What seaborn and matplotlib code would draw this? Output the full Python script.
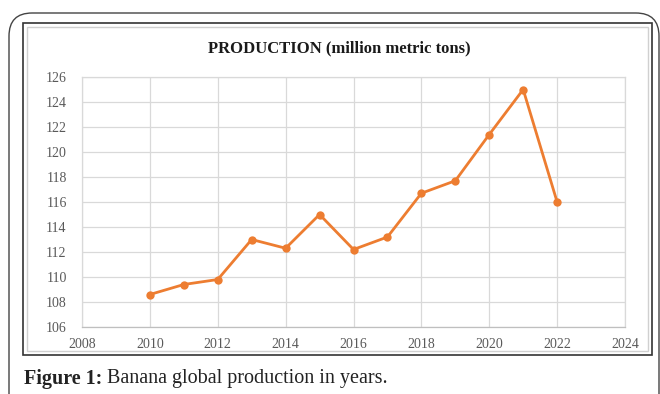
import matplotlib
matplotlib.use("Agg")
import matplotlib.pyplot as plt
import seaborn as sns
import pandas as pd
from matplotlib.patches import FancyBboxPatch, Rectangle

years = [2010, 2011, 2012, 2013, 2014, 2015, 2016, 2017, 2018, 2019, 2020, 2021, 2022]
production = [108.6, 109.4, 109.8, 113.0, 112.3, 115.0, 112.2, 113.2, 116.7, 117.7, 121.4, 125.0, 116.0]
x_ticks = [2008, 2010, 2012, 2014, 2016, 2018, 2020, 2022, 2024]
y_ticks = [106, 108, 110, 112, 114, 116, 118, 120, 122, 124, 126]
title = "PRODUCTION (million metric tons)"

df = pd.DataFrame({"year": years, "production": production})

sns.set_theme(style="white")
plt.rcParams['font.family'] = ['Liberation Serif', 'DejaVu Serif']

fig = plt.figure(figsize=(6.6, 3.94), dpi=100)
W, H = 660, 394

def fx(px):
    return px / W

def fy(py):
    return 1 - py / H

# outer rounded frame
outer = FancyBboxPatch((fx(9), fy(420)), fx(650), fy(13) - fy(420),
                       boxstyle="round,pad=0,rounding_size=0.035",
                       transform=fig.transFigure, fill=False,
                       edgecolor="#444444", linewidth=1.0, mutation_aspect=W / H)
fig.patches.append(outer)

# chart box (double border)
box1 = Rectangle((fx(23), fy(355)), fx(629), fy(23) - fy(355), transform=fig.transFigure,
                 fill=False, edgecolor="#333333", linewidth=1.2)
box2 = Rectangle((fx(27), fy(351)), fx(621), fy(27) - fy(351), transform=fig.transFigure,
                 fill=False, edgecolor="#d0d0d0", linewidth=1.0)
fig.patches.extend([box1, box2])

ax = fig.add_axes([fx(82), fy(327), fx(625) - fx(82), fy(77) - fy(327)])
sns.lineplot(data=df, x="year", y="production", ax=ax, color="#ED7D31",
             linewidth=2.0, marker="o", markersize=6, markeredgewidth=0,
             markerfacecolor="#ED7D31")

ax.set_xlim(2008, 2024)
ax.set_ylim(106, 126)
ax.set_xticks(x_ticks)
ax.set_yticks(y_ticks)
ax.set_xticklabels([str(t) for t in x_ticks])
ax.set_yticklabels([str(t) for t in y_ticks])
ax.tick_params(axis="both", labelsize=10, colors="#595959", length=0)
ax.tick_params(axis="x", pad=8)
ax.tick_params(axis="y", pad=11)
ax.grid(True, color="#d9d9d9", linewidth=0.9)
ax.set_axisbelow(True)
for s in ax.spines.values():
    s.set_color("#d9d9d9")
    s.set_linewidth(0.9)
ax.spines["bottom"].set_color("#bfbfbf")
ax.set_xlabel("")
ax.set_ylabel("")

fig.text(fx(339), fy(48), title, ha="center", va="center", fontsize=12,
         fontweight="bold", color="#1a1a1a")

t1 = fig.text(fx(24), fy(379), "Figure 1:", ha="left", va="center", fontsize=14.5,
              fontweight="bold", color="#222222")
fig.canvas.draw()
bb = t1.get_window_extent()
fig.text(bb.x1 / W + fx(5), fy(379), "Banana global production in years.", ha="left",
         va="center", fontsize=14.5, color="#222222")

fig.savefig("out.png", dpi=100)
